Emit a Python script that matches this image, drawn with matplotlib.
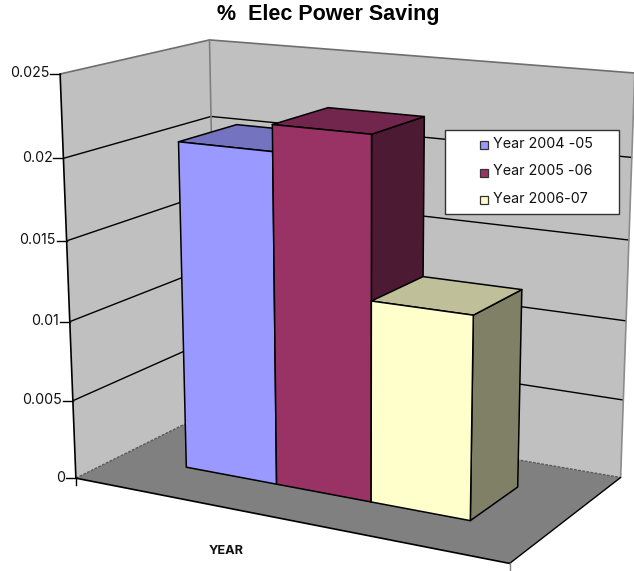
import numpy as np
import matplotlib
matplotlib.use('Agg')
import matplotlib.pyplot as plt
from matplotlib.patches import Polygon, Rectangle

plt.rcParams['font.family'] = ['Inter', 'Liberation Sans', 'DejaVu Sans']

title = '%  Elec Power Saving'
xlabel = 'YEAR'
series = ['Year 2004 -05', 'Year 2005 -06', 'Year 2006-07']
values = [0.0206, 0.0222, 0.0124]
yticks = [0, 0.005, 0.01, 0.015, 0.02, 0.025]
ytick_labels = ['0', '0.005', '0.01', '0.015', '0.02', '0.025']
front_colors = ['#9999FF', '#993366', '#FFFFCC']
top_colors = ['#7373BF', '#73264D', '#BFBF99']
side_colors = ['#4D4D80', '#4D1A33', '#808066']

ymax = 0.025
bar_left = 0.165
bar_width = 0.2235
bar_front = 0.308
bar_back = 0.715

# box corners (x, depth, value) and where they land on the page, used to fit the camera
corners = [(0, 0, 0), (1, 0, 0), (0, 1, 0), (1, 1, 0), (0, 0, 0.025),
           (0, 0, 0.02), (0, 1, 0.025), (0, 1, 0.02), (1, 1, 0.025)]
page = [(77, 477), (510, 564), (215, 409), (621, 477), (59, 74),
        (63, 159), (210.7, 39), (212, 117), (634, 73)]

A = []
for (x, d, v), (px, py) in zip(corners, page):
    z = v / ymax
    A.append([x, d, z, 1, 0, 0, 0, 0, -px*x, -px*d, -px*z, -px])
    A.append([0, 0, 0, 0, x, d, z, 1, -py*x, -py*d, -py*z, -py])
cam = np.linalg.svd(np.array(A))[2][-1].reshape(3, 4)


def project(x, d, v):
    p = cam @ np.array([x, d, v / ymax, 1])
    return p[:2] / p[2]


def face(pts, color, edge='black', lw=1.1, z=2):
    ax.add_patch(Polygon([project(*p) for p in pts], closed=True, facecolor=color,
                         edgecolor=edge, linewidth=lw, joinstyle='round', zorder=z))


def edge(a, b, color='black', lw=1.0, ls='-', z=1.5):
    p, q = project(*a), project(*b)
    ax.plot([p[0], q[0]], [p[1], q[1]], color=color, lw=lw, ls=ls, zorder=z,
            solid_capstyle='round')


fig = plt.figure(figsize=(6.34, 5.71), dpi=100)
ax = fig.add_axes([0, 0, 1, 1])
ax.set_xlim(0, 634)
ax.set_ylim(571, 0)
ax.axis('off')

# walls and floor
face([(0, 0, 0), (0, 1, 0), (0, 1, ymax), (0, 0, ymax)], '#C0C0C0', edge='none', z=1)
face([(0, 1, 0), (1, 1, 0), (1, 1, ymax), (0, 1, ymax)], '#C0C0C0', edge='none', z=1)
face([(0, 0, 0), (1, 0, 0), (1, 1, 0), (0, 1, 0)], '#808080', edge='none', z=1)

# gridlines on both walls
for v in yticks[1:-1]:
    edge((0, 0, v), (0, 1, v))
    edge((0, 1, v), (1, 1, v))

# wall outlines
edge((0, 0, ymax), (0, 1, ymax), color='#6E6E6E', lw=1.2)
edge((0, 1, ymax), (1, 1, ymax), color='#6E6E6E', lw=1.2)
edge((0, 1, 0), (0, 1, ymax), color='#808080', lw=1.2)
edge((1, 1, 0), (1, 1, ymax), color='#8C8C8C', lw=1.2)
edge((0, 0, 0), (0, 1, 0), color='#5A5A5A', lw=1.0, ls=(0, (2, 1)))
edge((0, 1, 0), (1, 1, 0), color='#5A5A5A', lw=1.0, ls=(0, (2, 1)))

# floor front edges and value axis
edge((0, 0, 0), (1, 0, 0), lw=1.2, z=1.8)
edge((1, 0, 0), (1, 1, 0), lw=1.0, z=1.8)
edge((0, 0, 0), (0, 0, ymax), lw=1.2, z=1.8)

# value ticks and labels
for v, lab in zip(yticks, ytick_labels):
    px, py = project(0, 0, v)
    ax.plot([px - 10, px], [py, py], color='black', lw=1.0, zorder=1.8)
    ax.text(px - 11, py - 0.5, lab, ha='right', va='center', fontsize=10.2, color='#111111')

# category ticks under the front edge
for x, col in [(0, 'black'), (1, '#808080')]:
    px, py = project(x, 0, 0)
    ax.plot([px, px], [py, py + 7], color=col, lw=1.0, zorder=1.8)

# bars, drawn left to right so each one covers the side of the last
for i, val in enumerate(values):
    x0 = bar_left + i * bar_width
    x1 = x0 + bar_width
    face([(x1, bar_front, 0), (x1, bar_back, 0), (x1, bar_back, val), (x1, bar_front, val)],
         side_colors[i], z=2 + i)
    face([(x0, bar_front, val), (x1, bar_front, val), (x1, bar_back, val), (x0, bar_back, val)],
         top_colors[i], z=2 + i)
    face([(x0, bar_front, 0), (x1, bar_front, 0), (x1, bar_front, val), (x0, bar_front, val)],
         front_colors[i], z=2 + i)

# legend box
ax.add_patch(Rectangle((445, 130), 174, 84, facecolor='white', edgecolor='#333333',
                       linewidth=1.0, zorder=6))
for i, name in enumerate(series):
    ty = 145 + i * 27.5
    ax.add_patch(Rectangle((480, ty - 4), 8, 8, facecolor=front_colors[i],
                           edgecolor='#333333', linewidth=0.9, zorder=7))
    ax.text(493, ty - 1.2, name, ha='left', va='center', fontsize=10.3, color='#111111', zorder=7)

ax.text(328, 14.5, title, ha='center', va='center', fontsize=15.5, fontweight='bold',
        family=['Liberation Sans', 'DejaVu Sans'])
ax.text(226, 550.5, xlabel, ha='center', va='center', fontsize=9.2, fontweight='bold', color='#111111')

fig.savefig('out.png', dpi=100)
